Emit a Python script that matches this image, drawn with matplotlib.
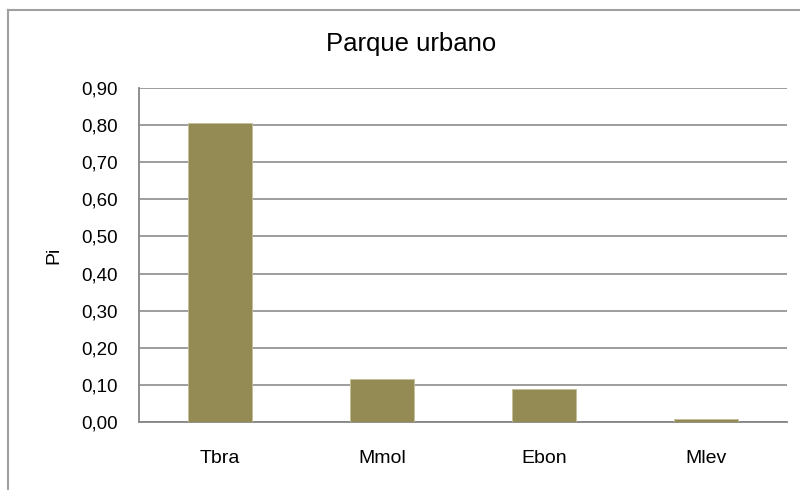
import matplotlib.pyplot as plt
from matplotlib.lines import Line2D
from matplotlib.ticker import FuncFormatter

especies = ['Tbra', 'Mmol', 'Ebon', 'Mlev']
pi_vals = [0.805, 0.116, 0.088, 0.007]
yticks = [0.0, 0.1, 0.2, 0.3, 0.4, 0.5, 0.6, 0.7, 0.8, 0.9]

plt.rcParams['font.family'] = ['Liberation Sans', 'DejaVu Sans']

fig = plt.figure(figsize=(8, 4.9), dpi=100)
ax = fig.add_axes([139 / 800, 1 - 422 / 490, (787 - 139) / 800, (422 - 88) / 490])

ax.bar(range(len(especies)), pi_vals, width=0.4, color='#948A54',
       edgecolor='#C4BD97', linewidth=0.6, zorder=3)

ax.set_xlim(-0.5, len(especies) - 0.5)
ax.set_ylim(0, 0.9)
ax.set_yticks(yticks)
ax.yaxis.set_major_formatter(FuncFormatter(lambda v, p: f"{v:.2f}".replace('.', ',')))
ax.set_xticks(range(len(especies)))
ax.set_xticklabels(especies)
ax.grid(axis='y', color='#8C8C8C', linewidth=1.2, zorder=0)

for s in ['top', 'right']:
    ax.spines[s].set_visible(False)
for s in ['left', 'bottom']:
    ax.spines[s].set_color('#868686')
    ax.spines[s].set_linewidth(1.3)

ax.tick_params(axis='both', length=0, colors='black')
ax.tick_params(axis='y', pad=15, labelsize=13.5)
ax.tick_params(axis='x', pad=20, labelsize=14)

ax.set_ylabel('Pi', fontsize=14, labelpad=14)
fig.text(411 / 800, 1 - 44 / 490, 'Parque urbano', ha='center', va='center', fontsize=18.5)

# chart frame (only left and top edges visible)
fig.add_artist(Line2D([8 / 800, 8 / 800], [0, 1 - 10 / 490], color='#A0A0A0', lw=1.5,
                      transform=fig.transFigure))
fig.add_artist(Line2D([8 / 800, 1], [1 - 10 / 490, 1 - 10 / 490], color='#A0A0A0', lw=1.5,
                      transform=fig.transFigure))

fig.savefig('out.png', dpi=100)
